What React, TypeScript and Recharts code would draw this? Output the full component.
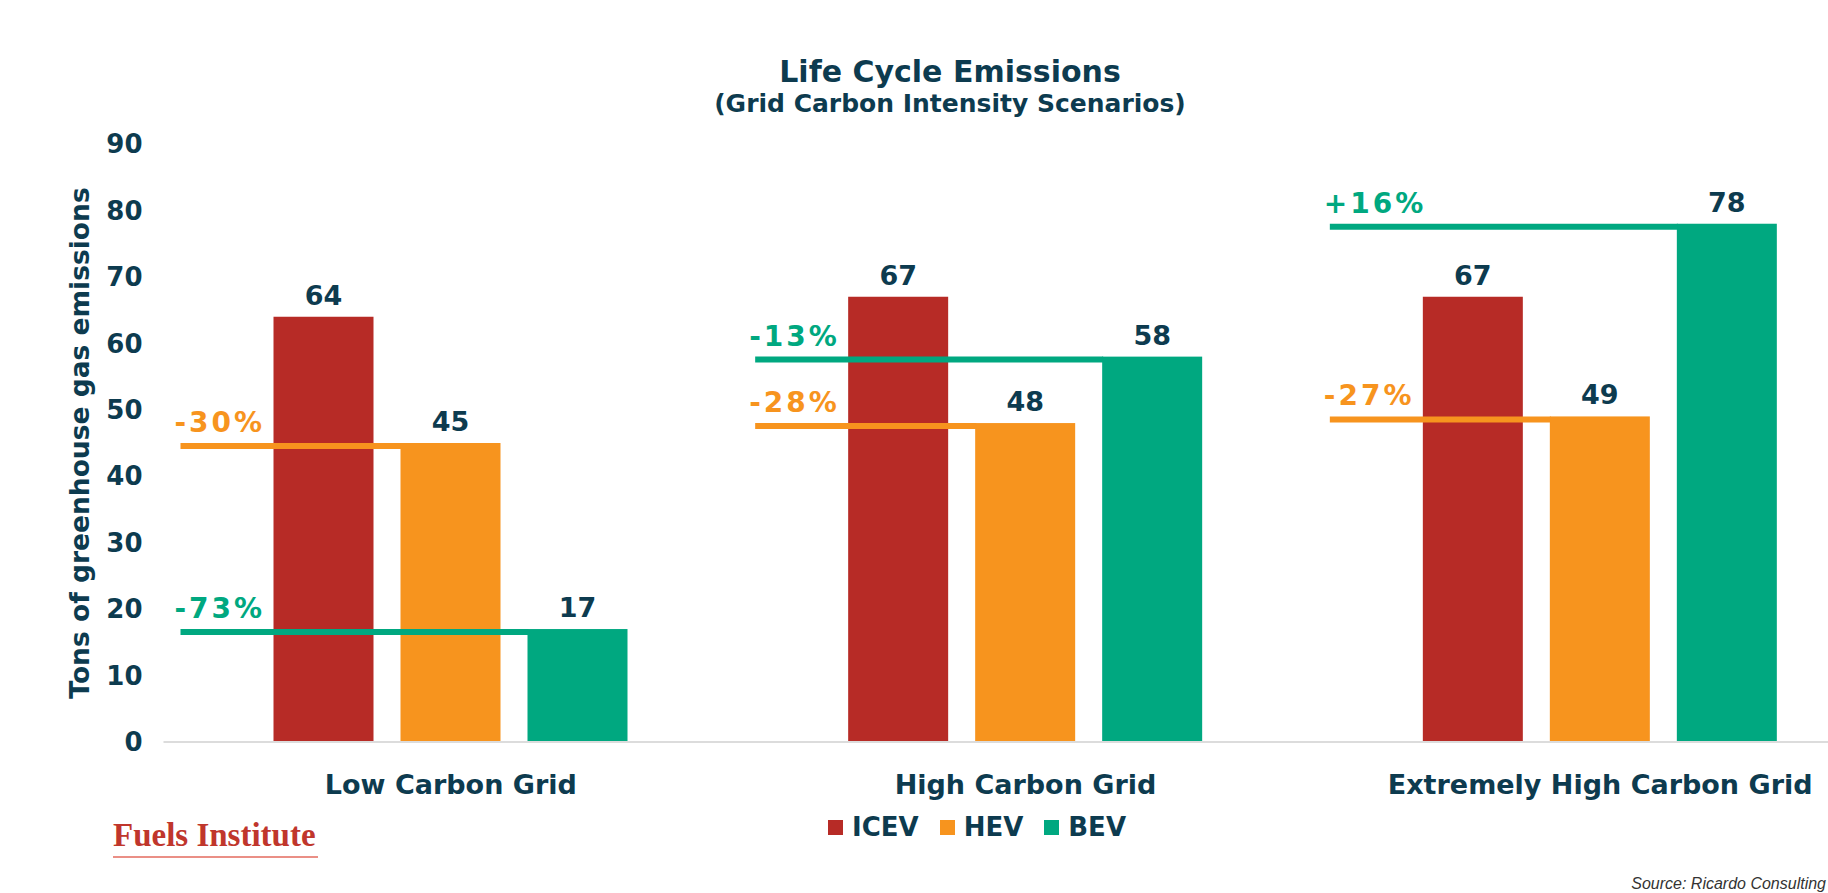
import React from 'react';
import { BarChart, Bar, XAxis, YAxis, LabelList } from 'recharts';

const categories = ['Low Carbon Grid', 'High Carbon Grid', 'Extremely High Carbon Grid'];
const icevValues = [64, 67, 67];
const hevValues = [45, 48, 49];
const bevValues = [17, 58, 78];
const hevChange = ['-30%', '-28%', '-27%'];
const bevChange = ['-73%', '-13%', '+16%'];
const yTicks = [0, 10, 20, 30, 40, 50, 60, 70, 80, 90];
const seriesNames = ['ICEV', 'HEV', 'BEV'];

const RED = '#B72B26';
const ORANGE = '#F7941E';
const GREEN = '#00A880';
const NAVY = '#0D3B4F';
const FONT = '"DejaVu Sans", Verdana, sans-serif';
const seriesColors = [RED, ORANGE, GREEN];

const BAR = 100;
const GAP = 27;
const LEAD = 93;

const data = categories.map((c, i) => ({
  category: c,
  ICEV: icevValues[i],
  HEV: hevValues[i],
  BEV: bevValues[i],
}));

const makeShape = (color: string, changes: string[], barsBefore: number) => (props: any) => {
  const { x, y, width, height, index } = props;
  const startX = x - barsBefore * (BAR + GAP) - LEAD;
  return (
    <g>
      <rect x={x} y={y} width={width} height={height} fill={color} />
      <line x1={startX} x2={x + 1} y1={y + 3} y2={y + 3} stroke={color} strokeWidth={6} />
      <text x={startX - 6} y={y - 11} fill={color} fontSize={28} fontWeight={700} letterSpacing={3} fontFamily={FONT}>
        {changes[index]}
      </text>
    </g>
  );
};

const hevShape = makeShape(ORANGE, hevChange, 1);
const bevShape = makeShape(GREEN, bevChange, 2);

const valueLabelStyle = { fill: NAVY, fontSize: 27, fontWeight: 700, fontFamily: FONT };

export default function App() {
  return (
    <div style={{ position: 'absolute', left: 0, top: 0, width: 1828, height: 893, overflow: 'hidden', background: '#fff', fontFamily: FONT }}>
      <div style={{ position: 'absolute', left: 0, width: 1900, top: 57, textAlign: 'center', fontSize: 30, lineHeight: '30px', fontWeight: 700, color: NAVY }}>
        Life Cycle Emissions
      </div>
      <div style={{ position: 'absolute', left: 0, width: 1900, top: 91, textAlign: 'center', fontSize: 25, lineHeight: '25px', fontWeight: 700, color: NAVY }}>
        (Grid Carbon Intensity Scenarios)
      </div>
      <div style={{ position: 'absolute', left: 80, top: 443, transform: 'translate(-50%, -50%) rotate(-90deg)', whiteSpace: 'nowrap', fontSize: 26.5, lineHeight: '26.5px', fontWeight: 700, color: NAVY }}>
        Tons of greenhouse gas emissions
      </div>
      <div style={{ position: 'absolute', left: 0, top: 0 }}>
        <BarChart width={1900} height={893} data={data} margin={{ top: 144, right: 12.5, bottom: 91, left: 0 }} barSize={BAR} barGap={GAP}>
          <XAxis
            dataKey="category"
            height={60}
            axisLine={{ stroke: '#DCDCDC', strokeWidth: 2 }}
            tickLine={false}
            tickSize={0}
            tickMargin={33}
            tick={{ fill: NAVY, fontSize: 27, fontWeight: 700, fontFamily: FONT }}
          />
          <YAxis
            width={163.5}
            domain={[0, 90]}
            ticks={yTicks}
            axisLine={false}
            tickLine={false}
            tickSize={0}
            tickMargin={21}
            tick={{ fill: NAVY, fontSize: 26, fontWeight: 700, fontFamily: FONT }}
          />
          <Bar dataKey="ICEV" fill={RED} isAnimationActive={false}>
            <LabelList dataKey="ICEV" position="top" offset={12} style={valueLabelStyle} />
          </Bar>
          <Bar dataKey="HEV" fill={ORANGE} shape={hevShape} isAnimationActive={false}>
            <LabelList dataKey="HEV" position="top" offset={12} style={valueLabelStyle} />
          </Bar>
          <Bar dataKey="BEV" fill={GREEN} shape={bevShape} isAnimationActive={false}>
            <LabelList dataKey="BEV" position="top" offset={12} style={valueLabelStyle} />
          </Bar>
        </BarChart>
      </div>
      <div style={{ position: 'absolute', left: 828, top: 814, display: 'flex', alignItems: 'center', fontSize: 26, lineHeight: '26px', fontWeight: 700, color: NAVY }}>
        {seriesNames.map((n, i) => (
          <div key={n} style={{ display: 'flex', alignItems: 'center', marginRight: 21 }}>
            <span style={{ display: 'inline-block', width: 15, height: 15, background: seriesColors[i], marginRight: 9 }} />
            {n}
          </div>
        ))}
      </div>
      <div style={{ position: 'absolute', left: 113, top: 819, fontFamily: '"Liberation Serif", serif', fontWeight: 700, fontSize: 33, lineHeight: '33px', color: '#C0362C', whiteSpace: 'nowrap' }}>
        Fuels Institute
      </div>
      <div style={{ position: 'absolute', left: 113, top: 856, width: 205, height: 2, background: '#EA8F86' }} />
      <div style={{ position: 'absolute', right: 2, top: 876, fontFamily: '"Liberation Sans", Arial, sans-serif', fontStyle: 'italic', fontSize: 16, lineHeight: '16px', color: '#333' }}>
        Source: Ricardo Consulting
      </div>
    </div>
  );
}
